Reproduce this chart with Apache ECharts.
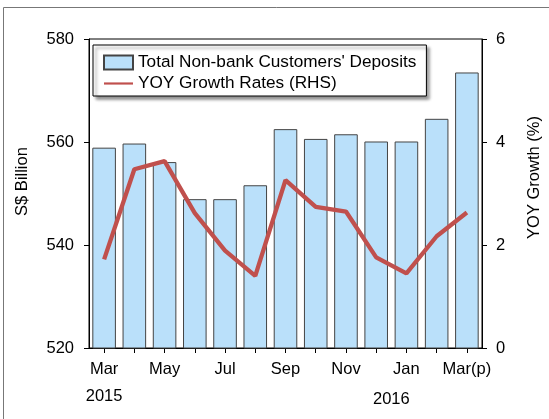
<!DOCTYPE html>
<html>
<head>
<meta charset="utf-8">
<script src="https://cdn.jsdelivr.net/npm/echarts@6/dist/echarts.min.js"></script>
<style>
html,body{margin:0;padding:0;background:#fff;}
#chart{width:549px;height:419px;}
</style>
</head>
<body>
<div id="chart"></div>
<script>
var categories = ['Mar','Apr','May','Jun','Jul','Aug','Sep','Oct','Nov','Dec','Jan','Feb','Mar(p)'];
var deposits = [558.9, 559.7, 556.1, 548.9, 548.9, 551.6, 562.5, 560.6, 561.5, 560.1, 560.1, 564.5, 573.5];
var growth = [1.72, 3.47, 3.63, 2.62, 1.89, 1.40, 3.26, 2.74, 2.65, 1.76, 1.45, 2.17, 2.63];
var yearLabels = ['2015', '2016'];
var yearAnchors = [['Mar','Mar'], ['Dec','Jan']];
var depositsName = "Total Non-bank Customers' Deposits";
var growthName = 'YOY Growth Rates (RHS)';

var FONT = "'Liberation Sans', Arial, sans-serif";
var LINE_COLOR = '#C0504D';
var chart = echarts.init(document.getElementById('chart'), null, {renderer: 'canvas'});

var option = {
  animation: false,
  backgroundColor: '#ffffff',
  grid: {left: 89, right: 67, top: 39, bottom: 71, containLabel: false, outerBoundsMode: 'none', show: true, borderColor: '#000', borderWidth: 1, backgroundColor: 'transparent'},
  legend: {
    orient: 'vertical',
    left: 93, top: 45,
    padding: [9, 10, 4, 10],
    itemWidth: 29, itemHeight: 14, itemGap: 4,
    symbolKeepAspect: true,
    backgroundColor: '#fff',
    borderColor: '#000', borderWidth: 1,
    shadowColor: 'rgba(0,0,0,0.45)', shadowBlur: 3, shadowOffsetX: 3, shadowOffsetY: 3,
    textStyle: {fontFamily: FONT, fontSize: 17.2, color: '#000', lineHeight: 17},
    data: [
      {name: depositsName, icon: 'rect'},
      {name: growthName, icon: 'path://M0,0 L40,0 L40,3 L0,3 Z', itemStyle: {color: LINE_COLOR, borderWidth: 0}}
    ]
  },
  xAxis: {
    type: 'category',
    data: categories,
    boundaryGap: true,
    axisLine: {show: true, lineStyle: {color: '#000', width: 1}},
    axisTick: {show: true, alignWithLabel: true, interval: 0, length: 5, lineStyle: {color: '#000'}},
    axisLabel: {interval: 1, margin: 13, fontFamily: FONT, fontSize: 16.5, color: '#000'},
    splitLine: {show: false}
  },
  yAxis: [{
    type: 'value', min: 520, max: 580, interval: 20,
    name: 'S$ Billion', nameLocation: 'middle', nameGap: 58, nameRotate: 90,
    nameTextStyle: {fontFamily: FONT, fontSize: 16.5, color: '#000', padding: [0, 0, 0, 24]},
    axisLine: {show: true, lineStyle: {color: '#000'}},
    axisTick: {show: true, length: 5, lineStyle: {color: '#000'}},
    axisLabel: {margin: 15, fontFamily: FONT, fontSize: 16.5, color: '#000'},
    splitLine: {show: false}
  }, {
    type: 'value', min: 0, max: 6, interval: 2, position: 'right',
    name: 'YOY Growth (%)', nameLocation: 'middle', nameGap: 44, nameRotate: 90,
    nameTextStyle: {fontFamily: FONT, fontSize: 16.5, color: '#000', padding: [0, 0, 0, 32]},
    axisLine: {show: true, lineStyle: {color: '#000'}},
    axisTick: {show: true, length: 5, lineStyle: {color: '#000'}},
    axisLabel: {margin: 14, fontFamily: FONT, fontSize: 16.5, color: '#000'},
    splitLine: {show: false}
  }],
  series: [{
    name: depositsName,
    type: 'bar',
    data: deposits,
    barCategoryGap: '22%',
    itemStyle: {color: '#BAE0FA', borderColor: '#444', borderWidth: 1}
  }, {
    name: growthName,
    type: 'line',
    yAxisIndex: 1,
    data: growth,
    symbol: 'none',
    showSymbol: false,
    lineStyle: {color: LINE_COLOR, width: 4.3},
    itemStyle: {color: LINE_COLOR},
    z: 5
  }]
};
chart.setOption(option);

var graphics = [{
  type: 'rect', silent: true, z: -1,
  shape: {x: 3.5, y: 7.5, width: 700, height: 600},
  style: {fill: null, stroke: '#777', lineWidth: 1}
}];
var yearY = [396, 399];
yearLabels.forEach(function (label, i) {
  var a = chart.convertToPixel({xAxisIndex: 0}, yearAnchors[i][0]);
  var b = chart.convertToPixel({xAxisIndex: 0}, yearAnchors[i][1]);
  graphics.push({
    type: 'text', silent: true,
    x: (a + b) / 2, y: yearY[i],
    style: {text: label, fontFamily: FONT, fontSize: 16.5, fill: '#000', align: 'center', verticalAlign: 'middle'}
  });
});
chart.setOption({graphic: graphics});
</script>
</body>
</html>
